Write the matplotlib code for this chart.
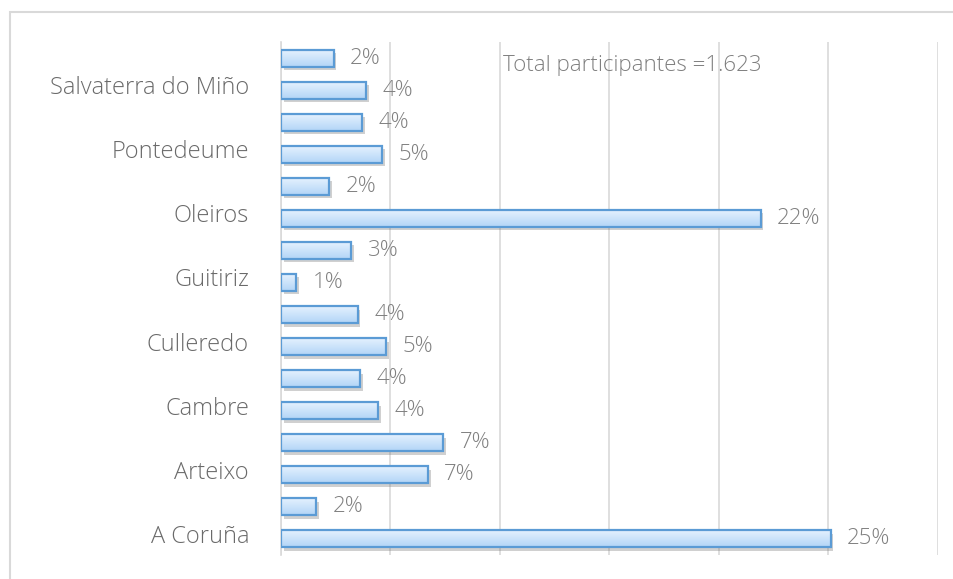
import numpy as np
import matplotlib
matplotlib.use("Agg")
import matplotlib.pyplot as plt
import matplotlib.patheffects as pe
import matplotlib.transforms as mtransforms
from matplotlib.patches import Rectangle

# Municipios (de abajo a arriba); solo se ven uno de cada dos rótulos
municipios = ["A Coruña", "Abegondo", "Arteixo", "Betanzos", "Cambre", "Carral",
              "Culleredo", "Ferrol", "Guitiriz", "Narón", "Oleiros", "Ordes",
              "Pontedeume", "Sada", "Salvaterra do Miño", "Santiago"]
porcentajes = [25.1, 1.6, 6.7, 7.4, 4.45, 3.6, 4.8, 3.5, 0.7, 3.2, 21.9, 2.2,
               4.6, 3.7, 3.9, 2.4]
ticks_x = [0, 5, 10, 15, 20, 25, 30]
nota = "Total participantes =1.623"

plt.rcParams['font.family'] = ['Open Sans', 'DejaVu Sans']
plt.rcParams['font.weight'] = 'light'

fig = plt.figure(figsize=(9.54, 5.79), dpi=100)
fig.patches.append(Rectangle((10/954, -0.05), 1.0, 1 - 12/579 + 0.05,
                             transform=fig.transFigure, fill=False,
                             edgecolor="#d9d9d9", linewidth=1.5))
ax = fig.add_axes([281/954, 24/579, 657/954, 513/579])

y = np.arange(len(municipios))
alto = 0.53
barras = ax.barh(y, porcentajes, height=alto, color="#c6e0fa", edgecolor="none",
                 zorder=3,
                 path_effects=[pe.SimplePatchShadow(offset=(2, -2.5), alpha=0.35,
                                                    shadow_rgbFace="#7a7a7a"),
                               pe.Normal()])

# degradado dentro de cada barra
grad = np.linspace(0, 1, 64).reshape(-1, 1)
cmap = matplotlib.colors.LinearSegmentedColormap.from_list("azul", ["#b3d5f7", "#e4f1fe"])
for b in barras:
    x0, y0 = b.get_x(), b.get_y()
    w, h = b.get_width(), b.get_height()
    im = ax.imshow(grad, extent=[x0, x0 + w, y0, y0 + h], origin="lower",
                   cmap=cmap, aspect="auto", zorder=4)
    im.set_clip_path(b)
    ax.add_patch(Rectangle((x0, y0), w, h, fill=False, edgecolor="#5b9bd5",
                           linewidth=1.6, zorder=5))

for yi, v in zip(y, porcentajes):
    ax.text(v + 0.75, yi, f"{v:.0f}%", va="center", ha="left",
            fontsize=16, color="#808080", zorder=6)

ax.text(0.338, 0.955, nota, transform=ax.transAxes, ha="left", va="center",
        fontsize=16, color="#7f7f7f")

ax.set_xlim(0, 30)
ax.set_ylim(-0.5, len(municipios) - 0.5)
ax.set_xticks(ticks_x)
ax.set_xticklabels([])
ax.xaxis.grid(True, color="#d9d9d9", linewidth=1.2)
ax.set_axisbelow(True)
ax.tick_params(axis="both", length=0)
ax.set_yticks(y)
ax.set_yticklabels([m if i % 2 == 0 else "" for i, m in enumerate(municipios)],
                   fontsize=17, color="#6a6a6a")
ax.tick_params(axis="y", pad=23)
subir = mtransforms.ScaledTranslation(0, 5/100, fig.dpi_scale_trans)
for lbl in ax.get_yticklabels():
    lbl.set_transform(lbl.get_transform() + subir)
for s in ["top", "right", "bottom"]:
    ax.spines[s].set_visible(False)
ax.spines["left"].set_color("#d9d9d9")
ax.spines["left"].set_linewidth(1.2)

fig.savefig("out.png", dpi=100)
